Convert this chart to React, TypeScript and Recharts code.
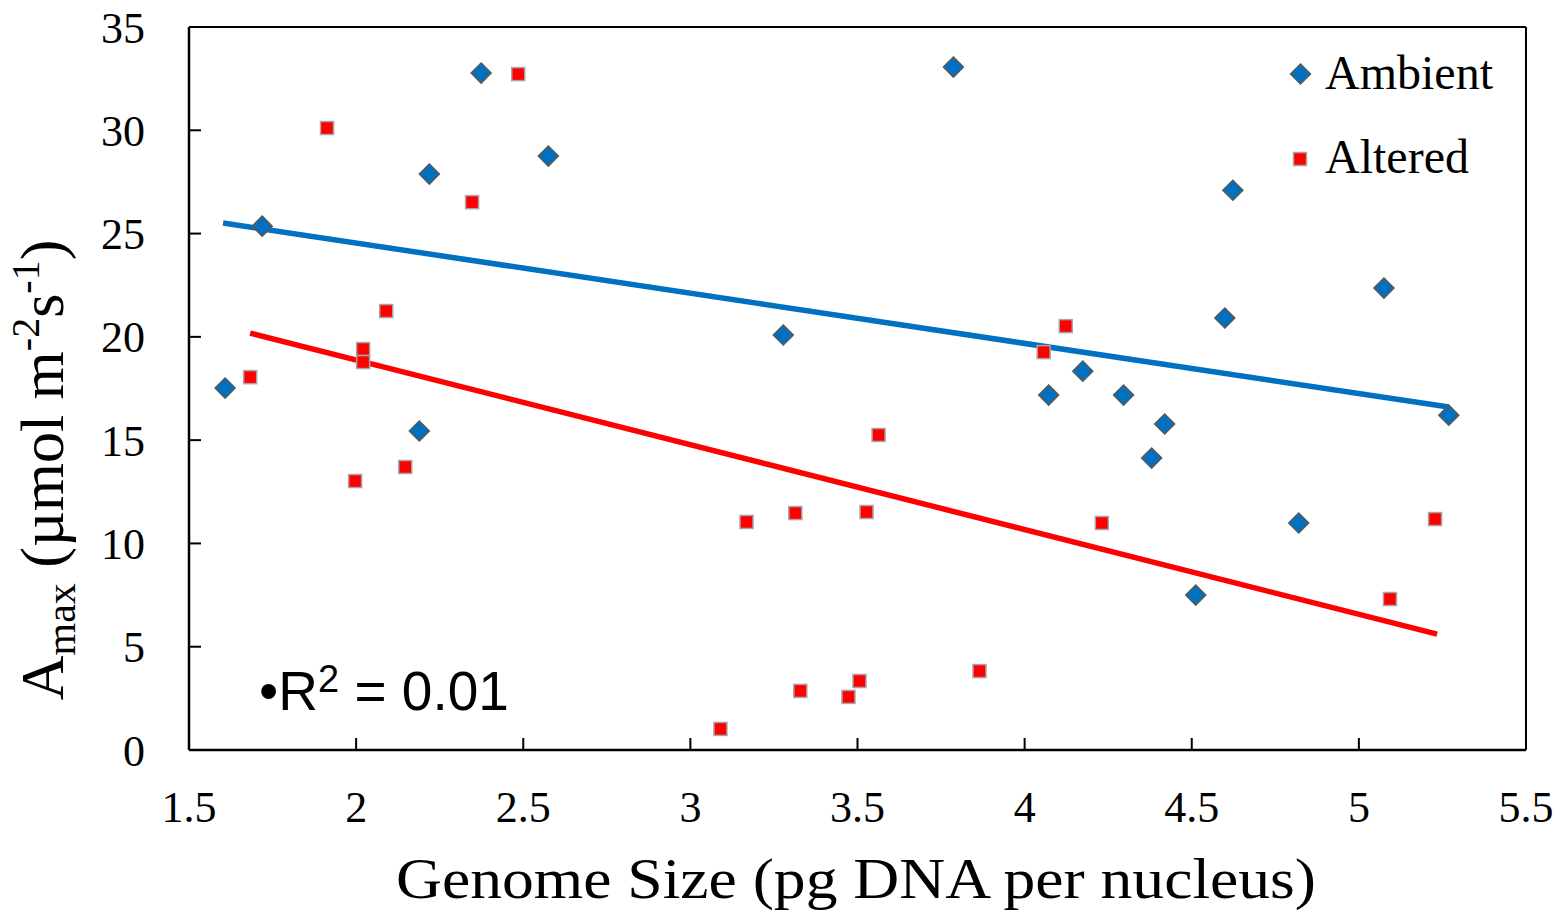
import { ScatterChart, Scatter, XAxis, YAxis, ReferenceLine, Legend } from "recharts"

const SERIF = "'Liberation Serif', 'Times New Roman', serif"
const SANS = "'Liberation Sans', Arial, sans-serif"
const BLUE = "#0070C0"
const RED = "#FF0000"

// genome size (pg) / Amax for each treatment
const ambientX = [1.608, 1.719, 2.374, 2.219, 2.575, 2.189, 3.278, 3.787, 4.072, 4.174, 4.296, 4.38, 4.419, 4.512, 4.599, 4.623, 4.82, 5.075, 5.269]
const ambientY = [17.52, 25.36, 32.77, 27.88, 28.75, 15.44, 20.09, 33.06, 17.18, 18.34, 17.18, 14.13, 15.78, 7.5, 20.91, 27.1, 10.99, 22.36, 16.21]

const alteredX = [1.683, 1.913, 1.997, 2.021, 2.021, 2.09, 2.147, 2.347, 2.485, 3.09, 3.168, 3.314, 3.329, 3.473, 3.506, 3.527, 3.563, 3.865, 4.057, 4.123, 4.231, 5.093, 5.228]
const alteredY = [18.05, 30.11, 13.02, 19.41, 18.78, 21.25, 13.7, 26.52, 32.72, 1.02, 11.04, 11.47, 2.86, 2.57, 3.34, 11.52, 15.25, 3.82, 19.26, 20.52, 10.99, 7.31, 11.18]

// linear trend endpoints [x, y]
const ambientTrend = [[1.602, 25.51], [5.269, 16.6]]
const alteredTrend = [[1.683, 20.18], [5.234, 5.61]]

const xTicks = [1.5, 2, 2.5, 3, 3.5, 4, 4.5, 5, 5.5]
const yTicks = [0, 5, 10, 15, 20, 25, 30, 35]

const ambient = ambientX.map((x, i) => ({ x, y: ambientY[i] }))
const altered = alteredX.map((x, i) => ({ x, y: alteredY[i] }))

function Diamond({ cx, cy }: any) {
  const r = 10
  return <polygon points={`${cx},${cy - r} ${cx + r},${cy} ${cx},${cy + r} ${cx - r},${cy}`} fill={BLUE} stroke="#595959" strokeWidth={1.5} />
}

function Square({ cx, cy }: any) {
  const s = 6.5
  return <rect x={cx - s} y={cy - s} width={s * 2} height={s * 2} fill={RED} stroke="#A6A6A6" strokeWidth={1.5} />
}

function LegendBox() {
  return (
    <svg width={260} height={150}>
      <Diamond cx={20.5} cy={34} />
      <text x={45} y={49} fontFamily={SERIF} fontSize={48} fill="#000">Ambient</text>
      <Square cx={20} cy={119} />
      <text x={45} y={133} fontFamily={SERIF} fontSize={48} fill="#000">Altered</text>
    </svg>
  )
}

const tickStyle = { fontSize: 44, fill: "#000", fontFamily: SERIF }

export default function App() {
  return (
    <div style={{ position: "absolute", left: 0, top: 0, background: "#fff" }}>
      <ScatterChart width={1564} height={913} margin={{ top: 27, right: 38, bottom: 0, left: 0 }}>
        <XAxis
          type="number"
          dataKey="x"
          domain={[1.5, 5.5]}
          ticks={xTicks}
          height={163}
          tick={tickStyle}
          tickSize={-12}
          tickMargin={53}
          axisLine={{ stroke: "#000", strokeWidth: 2.5 }}
          tickLine={{ stroke: "#000", strokeWidth: 2 }}
          interval={0}
        />
        <YAxis
          type="number"
          dataKey="y"
          domain={[0, 35]}
          ticks={yTicks}
          width={189}
          tick={tickStyle}
          tickSize={-12}
          tickMargin={56}
          axisLine={{ stroke: "#000", strokeWidth: 2.5 }}
          tickLine={{ stroke: "#000", strokeWidth: 2 }}
          interval={0}
        />
        <ReferenceLine y={35} stroke="#000" strokeWidth={2} />
        <ReferenceLine x={5.5} stroke="#000" strokeWidth={2} />
        <Scatter name="Ambient" data={ambient} shape={Diamond} isAnimationActive={false} />
        <Scatter name="Altered" data={altered} shape={Square} isAnimationActive={false} />
        <ReferenceLine
          segment={[{ x: ambientTrend[0][0], y: ambientTrend[0][1] }, { x: ambientTrend[1][0], y: ambientTrend[1][1] }]}
          stroke={BLUE}
          strokeWidth={5.5}
        />
        <ReferenceLine
          segment={[{ x: alteredTrend[0][0], y: alteredTrend[0][1] }, { x: alteredTrend[1][0], y: alteredTrend[1][1] }]}
          stroke={RED}
          strokeWidth={5.5}
        />
        <Legend
          layout="vertical"
          align="center"
          verticalAlign="middle"
          content={() => <LegendBox />}
          wrapperStyle={{ position: "absolute", top: 40, left: 1280, width: 260, height: 150 }}
        />
        <text x={259} y={710} fontFamily={SANS} fontSize={55} fill="#000">
          •R<tspan fontSize={38} dy={-18}>2</tspan><tspan dy={18}> = 0.01</tspan>
        </text>
        <text x={856} y={898} textAnchor="middle" fontFamily={SERIF} fontSize={56} fill="#000" textLength={920} lengthAdjust="spacingAndGlyphs">
          Genome Size (pg DNA per nucleus)
        </text>
        <text transform="translate(63, 470) rotate(-90)" textAnchor="middle" fontFamily={SERIF} fontSize={62} fill="#000">
          A<tspan fontSize={42} dy={12}>max</tspan><tspan dy={-12}> (µmol m</tspan>
          <tspan fontSize={40} dy={-24}>-2</tspan><tspan dy={24}>s</tspan>
          <tspan fontSize={40} dy={-24}>-1</tspan><tspan dy={24}>)</tspan>
        </text>
      </ScatterChart>
    </div>
  )
}
